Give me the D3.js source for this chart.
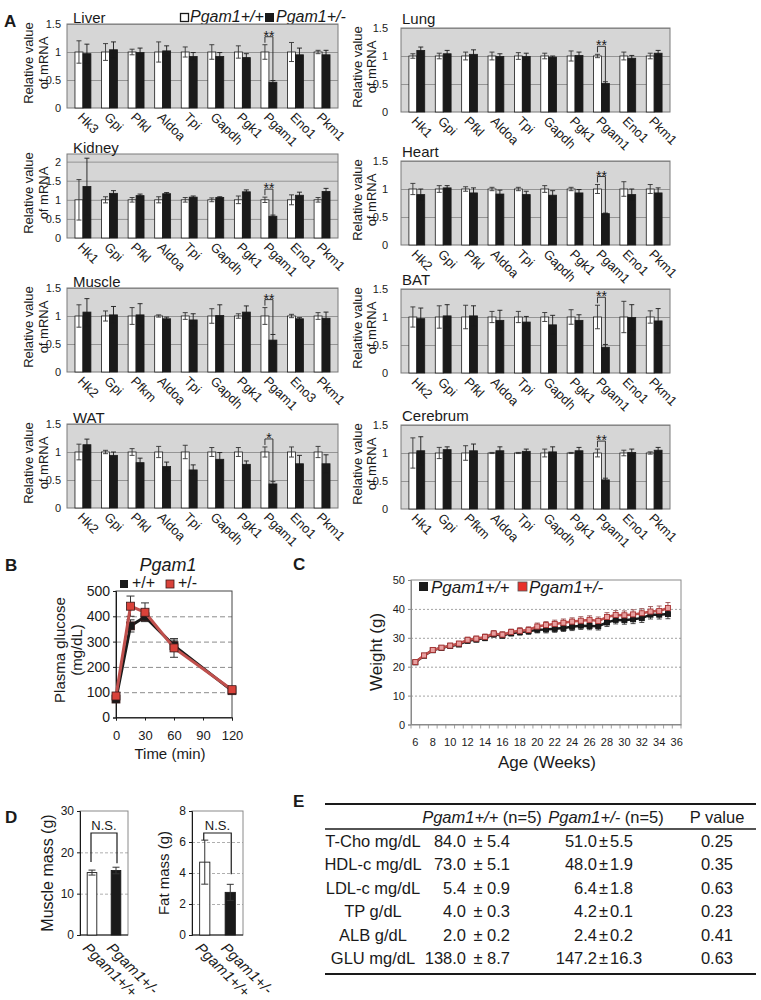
<!DOCTYPE html>
<html><head><meta charset="utf-8">
<script src="https://cdn.jsdelivr.net/npm/d3@7/dist/d3.min.js"></script>
<style>
html,body{margin:0;padding:0;background:#fff;}
svg text{font-family:"Liberation Sans",Arial,Helvetica,sans-serif;fill:#1a1a1a;}
</style></head><body>
<svg id="fig" width="761" height="1000" viewBox="0 0 761 1000"></svg>
<script>
// ================= DATA =================
// Panel A
const organs = ["Liver","Lung","Kidney","Heart","Muscle","BAT","WAT","Cerebrum"];
const geneLabels = [
  ["Hk3","Gpi","Pfkl","Aldoa","Tpi","Gapdh","Pgk1","Pgam1","Eno1","Pkm1"],
  ["Hk1","Gpi","Pfkl","Aldoa","Tpi","Gapdh","Pgk1","Pgam1","Eno1","Pkm1"],
  ["Hk1","Gpi","Pfkl","Aldoa","Tpi","Gapdh","Pgk1","Pgam1","Eno1","Pkm1"],
  ["Hk2","Gpi","Pfkl","Aldoa","Tpi","Gapdh","Pgk1","Pgam1","Eno1","Pkm1"],
  ["Hk2","Gpi","Pfkm","Aldoa","Tpi","Gapdh","Pgk1","Pgam1","Eno3","Pkm1"],
  ["Hk2","Gpi","Pfkl","Aldoa","Tpi","Gapdh","Pgk1","Pgam1","Eno1","Pkm1"],
  ["Hk2","Gpi","Pfkl","Aldoa","Tpi","Gapdh","Pgk1","Pgam1","Eno1","Pkm1"],
  ["Hk1","Gpi","Pfkm","Aldoa","Tpi","Gapdh","Pgk1","Pgam1","Eno1","Pkm1"]
];
const wtMean = [
  [1,1,1,1,1,1,1,1,1,1],[1,1,1,1,1,1,1,1,1,1],[1,1,1,1,1,1,1,1,1,1],[1,1,1,1,1,1,1,1,1,1],
  [1,1,1,1,1,1,1,1,1,1],[1,1,1,1,1,1,1,1,1,1],[1,1,1,1,1,1,1,1,1,1],[1,1,1,1,1,1,1,1,1,1]
];
const wtErr = [
  [0.2,0.15,0.05,0.18,0.09,0.13,0.11,0.13,0.17,0.03],
  [0.04,0.05,0.07,0.07,0.06,0.05,0.09,0.03,0.07,0.05],
  [0.53,0.08,0.06,0.08,0.06,0.05,0.1,0.07,0.13,0.06],
  [0.1,0.06,0.04,0.03,0.03,0.06,0.03,0.08,0.13,0.08],
  [0.2,0.09,0.15,0.02,0.06,0.13,0.04,0.15,0.03,0.06],
  [0.18,0.2,0.21,0.1,0.1,0.08,0.13,0.21,0.28,0.11],
  [0.14,0.03,0.06,0.1,0.12,0.08,0.08,0.09,0.09,0.1],
  [0.27,0.1,0.13,0.01,0.01,0.07,0.01,0.07,0.05,0.02]
];
const hetMean = [
  [0.97,1.04,0.99,1.02,0.92,0.92,0.9,0.46,0.95,0.95],
  [1.1,1.04,1.03,0.99,0.99,0.98,1.01,0.51,0.96,1.05],
  [1.35,1.17,1.11,1.16,1.07,1.06,1.21,0.57,1.12,1.22],
  [0.9,1.02,0.93,0.91,0.9,0.89,0.93,0.56,0.9,0.93],
  [1.07,1.02,1.02,0.95,0.93,1.01,1.07,0.57,0.95,0.96],
  [0.97,1.02,1.02,0.94,0.91,0.86,0.94,0.46,0.99,0.93],
  [1.13,0.94,0.81,0.74,0.68,0.87,0.78,0.43,0.79,0.79],
  [1.04,1.06,1.04,1.04,1.03,1.02,1.04,0.52,1.01,1.05]
];
const hetErr = [
  [0.17,0.14,0.08,0.09,0.07,0.07,0.07,0.03,0.12,0.08],
  [0.06,0.06,0.08,0.05,0.06,0.02,0.06,0.03,0.05,0.05],
  [0.74,0.07,0.04,0.03,0.03,0.02,0.05,0.03,0.08,0.08],
  [0.1,0.04,0.09,0.07,0.06,0.08,0.06,0.01,0.1,0.09],
  [0.24,0.15,0.2,0.03,0.11,0.19,0.11,0.1,0.02,0.11],
  [0.19,0.2,0.18,0.18,0.1,0.17,0.1,0.05,0.23,0.22],
  [0.1,0.06,0.08,0.08,0.09,0.12,0.06,0.04,0.15,0.16],
  [0.25,0.05,0.12,0.07,0.04,0.09,0.06,0.03,0.06,0.05]
];
const organYMax = [1.5,1.5,2.2,1.5,1.5,1.5,1.5,1.5];
const organYTicks = [
  [0,0.5,1,1.5],[0,0.5,1,1.5],[0,0.5,1,1.5,2],[0,0.5,1,1.5],
  [0,0.5,1,1.5],[0,0.5,1,1.5],[0,0.5,1,1.5],[0,0.5,1,1.5]
];
const sigMarks = ["**","**","**","**","**","**","*","**"];
const sigGene = "Pgam1";
const genotypes = ["Pgam1+/+","Pgam1+/-"];

// Panel B (glucose tolerance)
const gttTime = [0,15,30,60,120];
const gttWT = [73,362,398,284,106];
const gttWTErr = [7,24,16,22,6];
const gttHet = [85,440,416,275,110];
const gttHetErr = [8,40,37,37,8];
const gttYTicks = [0,100,200,300,400,500];
const gttXTicks = [0,30,60,90,120];
const gttLegend = ["+/+","+/-"];

// Panel C (body weight)
const weekCats = [6,7,8,9,10,11,12,13,14,15,16,17,18,19,20,21,22,23,24,25,26,27,28,29,30,31,32,33,34,35,36];
const weekLabels = [6,8,10,12,14,16,18,20,22,24,26,28,30,32,34,36];
const weightWeeks = [6,7,8,9,10,11,12,13,14,15,16,17,18,19,20,21,22,23,24,25,26,27,28,29,30,31,32,33,34,35];
const weightWT = [21.5,23.8,25.7,26.5,27.2,27.7,29.0,29.4,30.0,31.2,30.8,31.6,32.0,32.3,32.8,32.9,33.1,33.4,33.8,34.2,34.1,34.0,35.3,36.2,36.1,36.4,36.8,38.0,38.0,38.2];
const weightWTErr = [0.5,0.6,0.7,0.7,0.8,0.8,0.9,0.9,1.0,1.0,1.0,1.0,1.1,1.1,1.1,1.2,1.2,1.2,1.3,1.3,1.3,1.3,1.4,1.4,1.4,1.5,1.5,1.5,1.5,1.6];
const weightHet = [21.6,23.9,25.8,26.6,27.3,28.0,29.3,29.7,30.3,31.5,31.1,32.0,32.4,32.7,33.9,34.4,34.8,35.2,35.6,35.9,36.2,35.8,37.2,37.9,37.8,38.1,38.5,39.1,39.3,40.3];
const weightHetErr = [0.5,0.6,0.7,0.7,0.8,0.8,0.9,0.9,1.0,1.0,1.0,1.0,1.1,1.1,1.2,1.2,1.3,1.3,1.3,1.4,1.4,1.4,1.5,1.5,1.5,1.6,1.6,1.7,1.7,1.9];
const weightYTicks = [0,10,20,30,40,50];

// Panel D
const muscleMass = [15.1,15.6];
const muscleErr = [0.6,0.8];
const muscleTicks = [0,10,20,30];
const fatMass = [4.7,2.75];
const fatErr = [1.42,0.52];
const fatTicks = [0,2,4,6,8];

// Panel E
const tblRows = ["T-Cho mg/dL","HDL-c mg/dL","LDL-c mg/dL","TP g/dL","ALB g/dL","GLU mg/dL"];
const tblWTMean = ["84.0","73.0","5.4","4.0","2.0","138.0"];
const tblWTSD = ["5.4","5.1","0.9","0.3","0.2","8.7"];
const tblHetMean = ["51.0","48.0","6.4","4.2","2.4","147.2"];
const tblHetSD = ["5.5","1.9","1.8","0.1","0.2","16.3"];
const tblP = ["0.25","0.35","0.63","0.23","0.41","0.63"];

// ================= DRAWING =================
const svg = d3.select("#fig");
const INK = "#1a1a1a";
const RED_LINE = "#c0504d";
const RED_FILL = "#d9423a";

function label(x, y, s, size, opts = {}) {
  const t = svg.append("text").attr("x", x).attr("y", y).attr("font-size", size).text(s);
  if (opts.anchor) t.attr("text-anchor", opts.anchor);
  if (opts.bold) t.attr("font-weight", "bold");
  if (opts.italic) t.attr("font-style", "italic");
  return t;
}
function vlabel(cx, cy, s, size, opts = {}) {
  const t = svg.append("text").attr("transform", `translate(${cx},${cy}) rotate(-90)`)
    .attr("text-anchor", "middle").attr("dy", "0.35em").attr("font-size", size).text(s);
  if (opts.italic) t.attr("font-style", "italic");
  return t;
}
function styleAxis(a, size) {
  a.attr("font-size", size).attr("font-family", null);
  a.selectAll("line").attr("stroke", INK);
  a.select(".domain").attr("stroke", INK);
}

// ---------- Panel A ----------
label(4, 27, "A", 17, {bold: true});
svg.append("rect").attr("x", 180.5).attr("y", 13.5).attr("width", 8).attr("height", 8)
  .attr("fill", "#fff").attr("stroke", INK).attr("stroke-width", 1.3);
label(190, 22, genotypes[0], 16, {italic: true});
svg.append("rect").attr("x", 265).attr("y", 13).attr("width", 9).attr("height", 9).attr("fill", INK);
label(276, 22, genotypes[1], 16, {italic: true});

const colX = [[67, 338], [401, 670]];
const rowTop = [[24, 154, 288, 424], [28, 161, 289, 425]];
const tickPad = [6, 13];
const titleOff = [[-39, -24], [-44, -30]];
const titleDX = [6, 1];
const titleDY = [-1, -4];
const plotH = 84;

organs.forEach((org, i) => {
  const c = i % 2, r = Math.floor(i / 2);
  const [x0, x1] = colX[c];
  const y0 = rowTop[c][r], y1 = y0 + plotH;
  const g = svg.append("g");
  const x = d3.scaleBand().domain(geneLabels[i]).range([x0, x1]).paddingInner(0.4).paddingOuter(0.3);
  const sub = d3.scaleBand().domain(["wt", "het"]).range([0, x.bandwidth()]);
  const y = d3.scaleLinear().domain([0, organYMax[i]]).range([y1, y0]);

  g.append("rect").attr("x", x0).attr("y", y0).attr("width", x1 - x0).attr("height", plotH).attr("fill", "#d6d6d6");
  const grid = g.append("g").attr("transform", `translate(${x0},0)`)
    .call(d3.axisLeft(y).tickValues(organYTicks[i].filter(t => t > 0)).tickSize(-(x1 - x0)).tickFormat(""));
  grid.select(".domain").remove();
  grid.selectAll("line").attr("stroke", "#8c8c8c").attr("stroke-width", 0.9);
  g.append("rect").attr("x", x0).attr("y", y0).attr("width", x1 - x0).attr("height", plotH)
    .attr("fill", "none").attr("stroke", "#7a7a7a").attr("stroke-width", 1);
  const ya = g.append("g").attr("transform", `translate(${x0},0)`)
    .call(d3.axisLeft(y).tickValues(organYTicks[i]).tickSize(0).tickPadding(tickPad[c]).tickFormat(d3.format("~g")));
  ya.select(".domain").remove();
  styleAxis(ya, 11);

  const genes = geneLabels[i];
  genes.forEach((gn, j) => {
    const bx0 = x(gn) + sub("wt"), bx1 = x(gn) + sub("het"), bw = sub.bandwidth();
    const vals = [[bx0, wtMean[i][j], wtErr[i][j], "#ffffff"], [bx1, hetMean[i][j], hetErr[i][j], INK]];
    vals.forEach(([bx, v, e, fill]) => {
      g.append("rect").attr("x", bx).attr("y", y(v)).attr("width", bw).attr("height", y1 - y(v))
        .attr("fill", fill).attr("stroke", INK).attr("stroke-width", 0.8);
      const cx = bx + bw / 2;
      const eg = g.append("g").attr("stroke", fill === INK ? INK : "#333").attr("stroke-width", 0.9);
      eg.append("line").attr("x1", cx).attr("x2", cx).attr("y1", y(v + e)).attr("y2", y(Math.max(0, v - e)));
      eg.append("line").attr("x1", cx - 2.5).attr("x2", cx + 2.5).attr("y1", y(v + e)).attr("y2", y(v + e));
      eg.append("line").attr("x1", cx - 2.5).attr("x2", cx + 2.5).attr("y1", y(Math.max(0, v - e))).attr("y2", y(Math.max(0, v - e)));
    });
  });

  const k = genes.indexOf(sigGene);
  const xl = x(sigGene) + sub("wt") + sub.bandwidth() / 2;
  const xr = x(sigGene) + sub("het") + sub.bandwidth() / 2;
  const yWt = y(wtMean[i][k] + wtErr[i][k]);
  const yHet = y(hetMean[i][k] + hetErr[i][k]);
  const yb = yWt - 8;
  g.append("path").attr("d", `M${xl},${yWt - 2}V${yb}H${xr}V${yHet}`)
    .attr("fill", "none").attr("stroke", "#333").attr("stroke-width", 1);
  g.append("text").attr("x", (xl + xr) / 2).attr("y", yb + 4).attr("text-anchor", "middle")
    .attr("font-size", 14).text(sigMarks[i]);

  g.selectAll("text.cat").data(genes).join("text").attr("class", "cat")
    .attr("transform", d => `translate(${x(d) + x.bandwidth() / 2 - 6},${y1 + 10}) rotate(45)`)
    .attr("font-size", 13).text(d => d);

  label(x0 + titleDX[c], y0 + titleDY[c], org, 15);
  vlabel(x0 + titleOff[c][0], y0 + plotH / 2 - 3, "Relative value", 13);
  vlabel(x0 + titleOff[c][1], y0 + plotH / 2 - 3, "of mRNA", 13);
});

// ---------- Panel B ----------
label(5, 571, "B", 17, {bold: true});
{
  const bx = d3.scaleLinear().domain([0, 120]).range([116, 232]);
  const by = d3.scaleLinear().domain([0, 500]).range([717.5, 591]);
  const grid = svg.append("g").attr("transform", "translate(116,0)")
    .call(d3.axisLeft(by).tickValues([100, 200, 300, 400]).tickSize(-116).tickFormat(""));
  grid.select(".domain").remove();
  grid.selectAll("line").attr("stroke", "#8c8c8c").attr("stroke-dasharray", "5,3");
  svg.append("rect").attr("x", 116).attr("y", 591).attr("width", 116).attr("height", 126.5)
    .attr("fill", "none").attr("stroke", "#444").attr("stroke-width", 1);
  const ya = svg.append("g").attr("transform", "translate(116,0)")
    .call(d3.axisLeft(by).tickValues(gttYTicks).tickSize(3).tickPadding(3));
  styleAxis(ya, 14);
  const xa = svg.append("g").attr("transform", "translate(0,717.5)")
    .call(d3.axisBottom(bx).tickValues(gttXTicks).tickSize(3).tickPadding(11.5));
  styleAxis(xa, 13);
  xa.selectAll("text").attr("dy", "0.62em");

  const series = [[gttWT, gttWTErr, INK, INK], [gttHet, gttHetErr, RED_LINE, RED_FILL]];
  series.forEach(([vals, errs, lc, fc]) => {
    const eg = svg.append("g").attr("stroke", "#333").attr("stroke-width", 1);
    gttTime.forEach((t, j) => {
      const cx = bx(t), yt = by(vals[j] + errs[j]), ybm = by(vals[j] - errs[j]);
      eg.append("line").attr("x1", cx).attr("x2", cx).attr("y1", yt).attr("y2", ybm);
      eg.append("line").attr("x1", cx - 4).attr("x2", cx + 4).attr("y1", yt).attr("y2", yt);
      eg.append("line").attr("x1", cx - 4).attr("x2", cx + 4).attr("y1", ybm).attr("y2", ybm);
    });
  });
  series.forEach(([vals, errs, lc, fc]) => {
    svg.append("path").datum(vals)
      .attr("d", d3.line().x((d, j) => bx(gttTime[j])).y(d => by(d)))
      .attr("fill", "none").attr("stroke", lc).attr("stroke-width", 3);
    svg.append("g").selectAll("rect").data(vals).join("rect")
      .attr("x", (d, j) => bx(gttTime[j]) - 4).attr("y", d => by(d) - 4)
      .attr("width", 8).attr("height", 8).attr("fill", fc).attr("stroke", "#3a1a1a").attr("stroke-width", 0.8);
  });
  label(168, 571, "Pgam1", 18, {italic: true, anchor: "middle"});
  svg.append("rect").attr("x", 120).attr("y", 580).attr("width", 8).attr("height", 8).attr("fill", INK);
  label(132, 588, gttLegend[0], 16);
  svg.append("rect").attr("x", 166).attr("y", 580).attr("width", 8).attr("height", 8)
    .attr("fill", RED_FILL).attr("stroke", "#3a1a1a").attr("stroke-width", 0.8);
  label(178, 588, gttLegend[1], 16);
  vlabel(60, 650, "Plasma glucose", 15);
  vlabel(77, 650, "(mg/dL)", 15);
  label(170, 759, "Time (min)", 15, {anchor: "middle"});
}

// ---------- Panel C ----------
label(293, 570, "C", 17, {bold: true});
{
  const cx = d3.scaleBand().domain(weekCats).range([411, 681]);
  const cy = d3.scaleLinear().domain([0, 50]).range([724.5, 580]);
  const grid = svg.append("g").attr("transform", "translate(411,0)")
    .call(d3.axisLeft(cy).tickValues([10, 20, 30, 40]).tickSize(-270).tickFormat(""));
  grid.select(".domain").remove();
  grid.selectAll("line").attr("stroke", "#8c8c8c").attr("stroke-width", 0.8).attr("stroke-dasharray", "2,2");
  svg.append("rect").attr("x", 411).attr("y", 580).attr("width", 270).attr("height", 144.5)
    .attr("fill", "none").attr("stroke", "#8a8a8a").attr("stroke-width", 1);
  const ya = svg.append("g").attr("transform", "translate(411,0)")
    .call(d3.axisLeft(cy).tickValues(weightYTicks).tickSize(3).tickPadding(3));
  styleAxis(ya, 11);
  ya.select(".domain").attr("stroke", "#8a8a8a");
  ya.selectAll("line").attr("stroke", "#8a8a8a");
  const xa = svg.append("g").attr("transform", "translate(0,724.5)")
    .call(d3.axisBottom(cx).tickValues(weekLabels).tickSize(0).tickPadding(14));
  styleAxis(xa, 11);
  xa.select(".domain").attr("stroke", "#8a8a8a");
  svg.append("g").selectAll("line").data(weekCats.concat([null])).join("line")
    .attr("x1", (d, i) => 411 + i * cx.step()).attr("x2", (d, i) => 411 + i * cx.step())
    .attr("y1", 724.5).attr("y2", 728.5).attr("stroke", "#8a8a8a").attr("stroke-width", 0.8);

  const px = w => cx(w) + cx.bandwidth() / 2;
  const series = [[weightWT, weightWTErr, INK, INK, "#111"], [weightHet, weightHetErr, RED_LINE, "#e8a0a0", "#a33"]];
  series.forEach(([vals, errs, lc, fc, sc]) => {
    const eg = svg.append("g").attr("stroke", sc === "#111" ? "#222" : "#8a3a3a").attr("stroke-width", 0.8);
    weightWeeks.forEach((w, j) => {
      const xx = px(w), yt = cy(vals[j] + errs[j]), ybm = cy(vals[j] - errs[j]);
      eg.append("line").attr("x1", xx).attr("x2", xx).attr("y1", yt).attr("y2", ybm);
      eg.append("line").attr("x1", xx - 2.5).attr("x2", xx + 2.5).attr("y1", yt).attr("y2", yt);
      eg.append("line").attr("x1", xx - 2.5).attr("x2", xx + 2.5).attr("y1", ybm).attr("y2", ybm);
    });
  });
  series.forEach(([vals, errs, lc, fc, sc]) => {
    svg.append("path").datum(vals)
      .attr("d", d3.line().x((d, j) => px(weightWeeks[j])).y(d => cy(d)))
      .attr("fill", "none").attr("stroke", lc).attr("stroke-width", 2.5);
    svg.append("g").selectAll("rect").data(vals).join("rect")
      .attr("x", (d, j) => px(weightWeeks[j]) - 2.5).attr("y", d => cy(d) - 2.5)
      .attr("width", 5).attr("height", 5).attr("fill", fc).attr("stroke", sc).attr("stroke-width", 0.9);
  });
  svg.append("rect").attr("x", 419).attr("y", 582).attr("width", 9).attr("height", 9).attr("fill", INK);
  label(431, 593, genotypes[0], 17, {italic: true});
  svg.append("rect").attr("x", 518).attr("y", 582).attr("width", 9).attr("height", 9)
    .attr("fill", "#e8302a").attr("stroke", "#555").attr("stroke-width", 0.8);
  label(529, 593, genotypes[1], 17, {italic: true});
  vlabel(376, 652, "Weight (g)", 17);
  label(547, 768, "Age (Weeks)", 17, {anchor: "middle"});
}

// ---------- Panel D ----------
label(5, 823, "D", 17, {bold: true});
function massChart(x0, x1, vals, errs, ticks, yTitle, titleX, titleSize, bracketY, legOff) {
  const y = d3.scaleLinear().domain([0, ticks[ticks.length - 1]]).range([935, 811]);
  const x = d3.scaleBand().domain(genotypes).range([x0, x1]).paddingInner(0.6).paddingOuter(0.3);
  const grid = svg.append("g").attr("transform", `translate(${x0},0)`)
    .call(d3.axisLeft(y).tickValues(ticks.slice(1, -1)).tickSize(-(x1 - x0)).tickFormat(""));
  grid.select(".domain").remove();
  grid.selectAll("line").attr("stroke", "#9a9a9a").attr("stroke-width", 0.8).attr("stroke-dasharray", "3,2");
  svg.append("rect").attr("x", x0).attr("y", 811).attr("width", x1 - x0).attr("height", 124)
    .attr("fill", "none").attr("stroke", "#8a8a8a").attr("stroke-width", 1);
  const ya = svg.append("g").attr("transform", `translate(${x0},0)`)
    .call(d3.axisLeft(y).tickValues(ticks).tickSize(3).tickPadding(3));
  styleAxis(ya, 12);
  svg.append("line").attr("x1", x0).attr("x2", x1).attr("y1", 935).attr("y2", 935).attr("stroke", INK);
  genotypes.forEach((gt, j) => {
    const bx = x(gt), bw = x.bandwidth(), c = bx + bw / 2;
    svg.append("rect").attr("x", bx).attr("y", y(vals[j])).attr("width", bw).attr("height", 935 - y(vals[j]))
      .attr("fill", j === 0 ? "#fff" : INK).attr("stroke", INK).attr("stroke-width", 0.9);
    const eg = svg.append("g").attr("stroke", "#333").attr("stroke-width", 1);
    const yt = y(vals[j] + errs[j]), ybm = y(vals[j] - errs[j]);
    eg.append("line").attr("x1", c).attr("x2", c).attr("y1", yt).attr("y2", ybm);
    eg.append("line").attr("x1", c - 3.5).attr("x2", c + 3.5).attr("y1", yt).attr("y2", yt);
    eg.append("line").attr("x1", c - 3.5).attr("x2", c + 3.5).attr("y1", ybm).attr("y2", ybm);
    svg.append("text").attr("transform", `translate(${c - 10},949) rotate(45)`)
      .attr("font-size", 15).attr("font-style", "italic").text(gt);
  });
  const xl = x(genotypes[0]) + x.bandwidth() / 2 - 1, xr = x(genotypes[1]) + x.bandwidth() / 2 + 1;
  const ylEnd = y(vals[0] + errs[0]) - legOff[0], yrEnd = y(vals[1] + errs[1]) - legOff[1];
  svg.append("path").attr("d", `M${xl},${ylEnd}V${bracketY}H${xr}V${yrEnd}`)
    .attr("fill", "none").attr("stroke", INK).attr("stroke-width", 1.2);
  label((xl + xr) / 2, bracketY - 3, "N.S.", 13, {anchor: "middle"});
  vlabel(titleX, 873, yTitle, titleSize);
}
massChart(80, 128, muscleMass, muscleErr, muscleTicks, "Muscle mass (g)", 47, 16, 833, [8, 4]);
massChart(192, 243, fatMass, fatErr, fatTicks, "Fat mass (g)", 164, 15, 833, [0, 10]);

// ---------- Panel E ----------
label(293, 807, "E", 17, {bold: true});
{
  const tx0 = 325, tx1 = 756;
  svg.append("line").attr("x1", tx0).attr("x2", tx1).attr("y1", 804).attr("y2", 804).attr("stroke", INK).attr("stroke-width", 2.2);
  svg.append("line").attr("x1", tx0).attr("x2", tx1).attr("y1", 829).attr("y2", 829).attr("stroke", INK).attr("stroke-width", 1.4);
  svg.append("line").attr("x1", tx0).attr("x2", tx1).attr("y1", 974).attr("y2", 974).attr("stroke", INK).attr("stroke-width", 2.2);
  const fs = 16.5;
  const h1 = svg.append("text").attr("x", 482).attr("y", 822.5).attr("text-anchor", "middle").attr("font-size", fs);
  h1.append("tspan").attr("font-style", "italic").text(genotypes[0]);
  h1.append("tspan").text(" (n=5)");
  const h2 = svg.append("text").attr("x", 606).attr("y", 822.5).attr("text-anchor", "middle").attr("font-size", fs);
  h2.append("tspan").attr("font-style", "italic").text(genotypes[1]);
  h2.append("tspan").text(" (n=5)");
  label(717, 822.5, "P value", fs, {anchor: "middle"});
  const ry = d3.scalePoint().domain(tblRows).range([841, 958]);
  tblRows.forEach((row, i) => {
    const yy = ry(row) + 6;
    label(373, yy, row, fs, {anchor: "middle"});
    label(466, yy, tblWTMean[i], fs, {anchor: "end"});
    label(478, yy, "±", fs, {anchor: "middle"});
    label(487, yy, tblWTSD[i], fs);
    label(597, yy, tblHetMean[i], fs, {anchor: "end"});
    label(603.5, yy, "±", fs, {anchor: "middle"});
    label(610, yy, tblHetSD[i], fs);
    label(717, yy, tblP[i], fs, {anchor: "middle"});
  });
}
</script>
</body></html>
